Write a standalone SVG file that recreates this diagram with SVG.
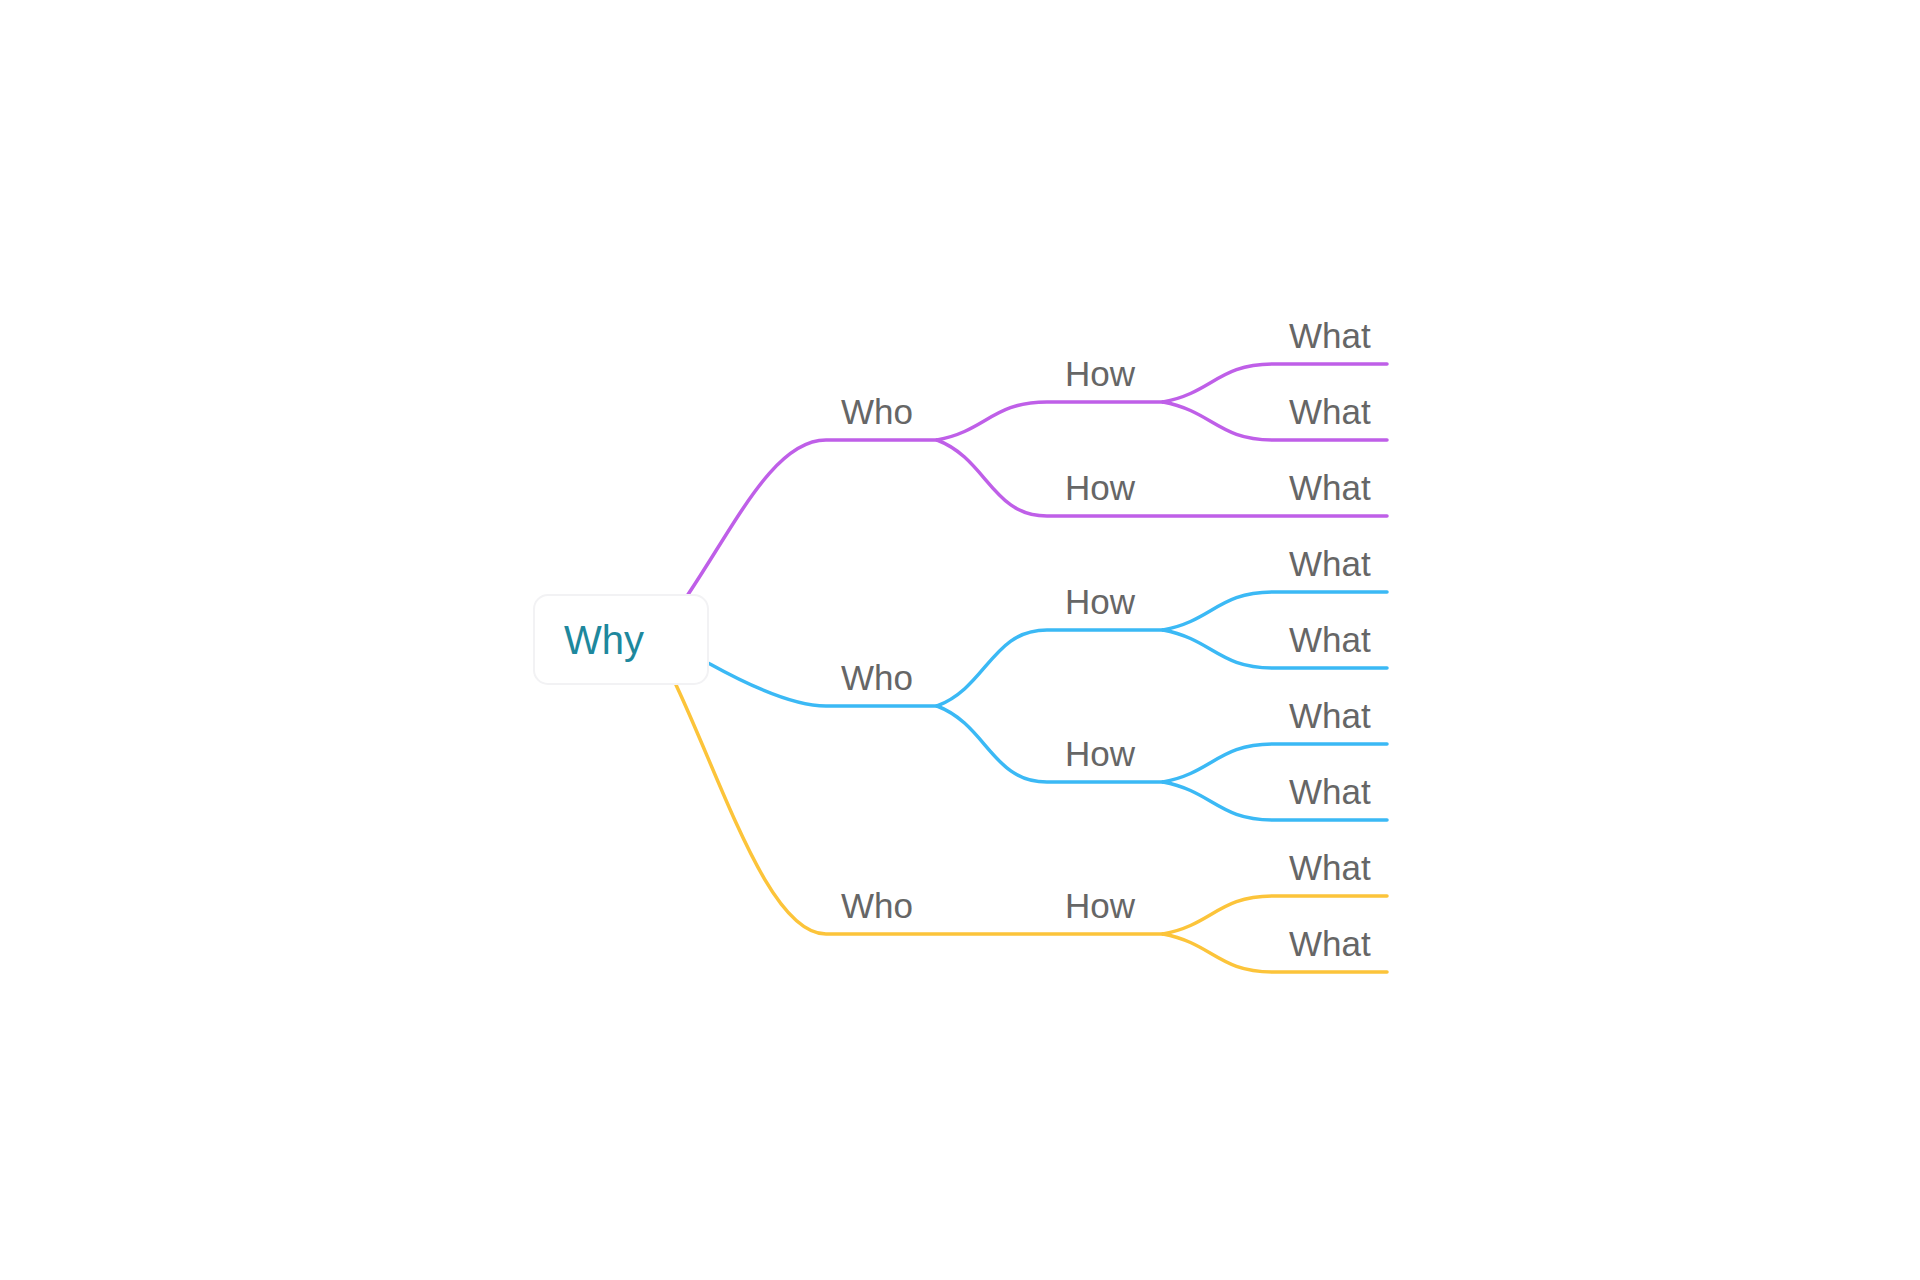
<svg xmlns="http://www.w3.org/2000/svg" width="1920" height="1280" viewBox="0 0 1920 1280">
<style>
.c{fill:none;stroke-width:3.5;stroke-linecap:round;stroke-linejoin:round}
.p{stroke:#bf5fe8}
.b{stroke:#3bb9f5}
.y{stroke:#fcc43a}
.t{font-family:"Liberation Sans",Arial,sans-serif;font-size:35px;fill:#666666}
.root{fill:#ffffff;stroke:#f2f2f4;stroke-width:2}
.rt{font-family:"Liberation Sans",Arial,sans-serif;font-size:40px;fill:#1e889d}
</style>
<rect width="1920" height="1280" fill="#ffffff"/>
<g id="connectors">
<path class="c p" d="M680,607 L689,593 C737,521 775,440 826,440 H937"/>
<path class="c p" d="M937,440 C987,430.5 992,402 1047,402 H1163"/>
<path class="c p" d="M1163,402 C1213,392.5 1218,364 1273,364 H1387"/>
<path class="c p" d="M1163,402 C1213,411.5 1218,440 1273,440 H1387"/>
<path class="c p" d="M937,440 C987,459 992,516 1047,516 H1387"/>
<path class="c b" d="M700,659 L710,664 Q786,706 826,706 H937"/>
<path class="c b" d="M937,706 C987,687 992,630 1047,630 H1163"/>
<path class="c b" d="M1163,630 C1213,620.5 1218,592 1273,592 H1387"/>
<path class="c b" d="M1163,630 C1213,639.5 1218,668 1273,668 H1387"/>
<path class="c b" d="M937,706 C987,725 992,782 1047,782 H1163"/>
<path class="c b" d="M1163,782 C1213,772.5 1218,744 1273,744 H1387"/>
<path class="c b" d="M1163,782 C1213,791.5 1218,820 1273,820 H1387"/>
<path class="c y" d="M672,676 L677,687 C725,790 770,934 826,934 H1163"/>
<path class="c y" d="M1163,934 C1213,924.5 1218,896 1273,896 H1387"/>
<path class="c y" d="M1163,934 C1213,943.5 1218,972 1273,972 H1387"/>
</g>
<g id="why">
<rect class="root" x="534" y="595" width="174" height="89" rx="14"/>
<text class="rt" x="564" y="654">Why</text>
</g>
<g id="who1"><text class="t" x="841" y="424">Who</text></g>
<g id="who2"><text class="t" x="841" y="690">Who</text></g>
<g id="who3"><text class="t" x="841" y="918">Who</text></g>
<g id="how1"><text class="t" x="1065" y="386">How</text></g>
<g id="how2"><text class="t" x="1065" y="500">How</text></g>
<g id="how3"><text class="t" x="1065" y="614">How</text></g>
<g id="how4"><text class="t" x="1065" y="766">How</text></g>
<g id="how5"><text class="t" x="1065" y="918">How</text></g>
<g id="what1"><text class="t" x="1289" y="348">What</text></g>
<g id="what2"><text class="t" x="1289" y="424">What</text></g>
<g id="what3"><text class="t" x="1289" y="500">What</text></g>
<g id="what4"><text class="t" x="1289" y="576">What</text></g>
<g id="what5"><text class="t" x="1289" y="652">What</text></g>
<g id="what6"><text class="t" x="1289" y="728">What</text></g>
<g id="what7"><text class="t" x="1289" y="804">What</text></g>
<g id="what8"><text class="t" x="1289" y="880">What</text></g>
<g id="what9"><text class="t" x="1289" y="956">What</text></g>
</svg>
